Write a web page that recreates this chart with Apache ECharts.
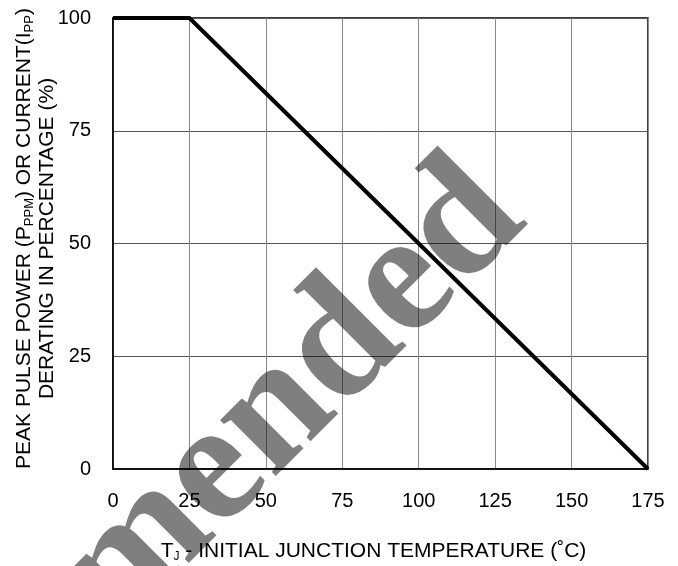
<!DOCTYPE html>
<html>
<head>
<meta charset="utf-8">
<script src="https://cdn.jsdelivr.net/npm/echarts@6/dist/echarts.min.js"></script>
<style>html,body{margin:0;padding:0;background:#fff}#c{width:678px;height:566px}</style>
</head>
<body>
<div id="c"></div>
<script>
var xTicks = [0, 25, 50, 75, 100, 125, 150, 175];
var yTicks = [0, 25, 50, 75, 100];
var temperature = [0, 25, 175];
var derating = [100, 100, 0];
var watermarkText = 'Not Recommended';

var chart = echarts.init(document.getElementById('c'), null, {renderer: 'canvas'});
var FONT = 'Liberation Sans, Arial, sans-serif';
var points = temperature.map(function (t, i) { return [t, derating[i]]; });

chart.setOption({
  backgroundColor: '#fff',
  animation: false,
  grid: {left: 113, right: 30, top: 18, bottom: 97, containLabel: false, outerBoundsMode: 'none',
         show: true, borderColor: '#000', borderWidth: 1.5, backgroundColor: 'transparent'},
  xAxis: {
    type: 'value', min: xTicks[0], max: xTicks[xTicks.length - 1], interval: 25,
    axisLine: {show: true, lineStyle: {color: '#000', width: 1.5}},
    axisTick: {show: false},
    splitLine: {show: true, lineStyle: {color: '#888', width: 1}},
    axisLabel: {color: '#000', fontSize: 20, fontFamily: FONT, margin: 22},
    name: '{a|T}{s|J}{a| - INITIAL JUNCTION TEMPERATURE (˚C)}',
    nameLocation: 'middle', nameGap: 70, nameMoveOverlap: false,
    nameTextStyle: {
      padding: [0, 14, 0, 0],
      rich: {
        a: {fontSize: 21, lineHeight: 24, color: '#000', fontFamily: FONT},
        s: {fontSize: 12, lineHeight: 12, verticalAlign: 'bottom', color: '#000', fontFamily: FONT}
      }
    }
  },
  yAxis: {
    type: 'value', min: yTicks[0], max: yTicks[yTicks.length - 1], interval: 25,
    axisLine: {show: true, lineStyle: {color: '#000', width: 1.5}},
    axisTick: {show: false},
    splitLine: {show: true, lineStyle: {color: '#555', width: 1}},
    axisLabel: {color: '#000', fontSize: 20, fontFamily: FONT, margin: 22},
    name: '{a|PEAK PULSE POWER (P}{s|PPM}{a|) OR CURRENT(I}{s|PP}{a|)}\n{a|DERATING IN PERCENTAGE (%)}',
    nameLocation: 'middle', nameGap: 54, nameRotate: 90, nameMoveOverlap: false,
    nameTextStyle: {
      padding: [0, 0, 0, 10],
      rich: {
        a: {fontSize: 21, lineHeight: 23, color: '#000', fontFamily: FONT},
        s: {fontSize: 13, lineHeight: 13, verticalAlign: 'bottom', color: '#000', fontFamily: FONT}
      }
    }
  },
  series: [{
    type: 'line', data: points, symbol: 'none', z: 5,
    lineStyle: {color: '#000', width: 4}
  }],
  graphic: [{
    type: 'text', x: 498, y: 191, rotation: Math.PI / 4, z: 100, silent: true,
    style: {
      text: watermarkText, fill: 'rgba(0,0,0,0.5)',
      font: 'bold 172px "Liberation Serif", "Times New Roman", serif',
      align: 'right', verticalAlign: 'middle'
    }
  }]
});
</script>
</body>
</html>
